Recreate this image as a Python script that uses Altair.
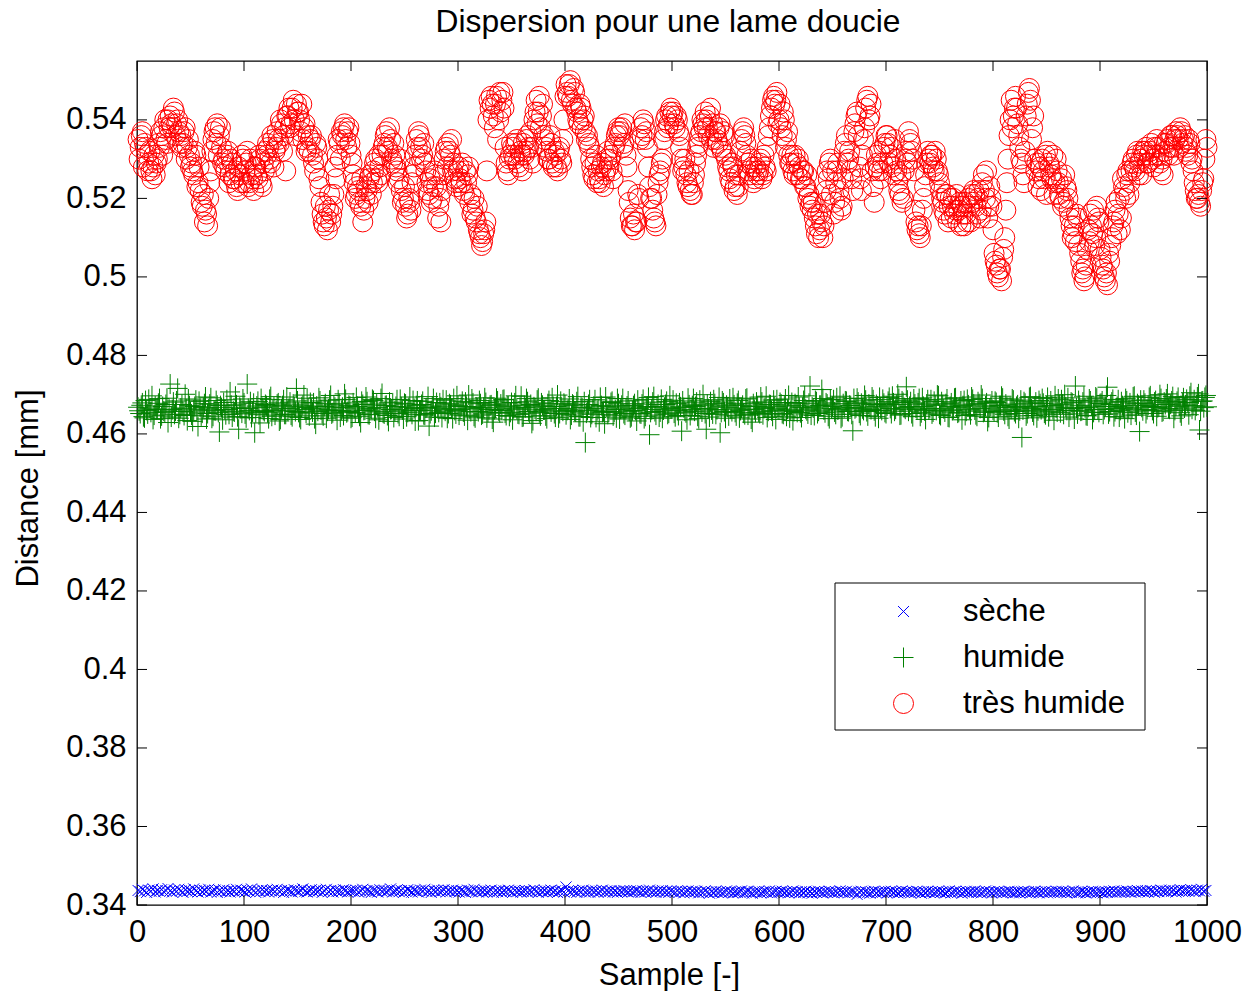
import altair as alt
import pandas as pd

FONT = "Liberation Sans"
FS = 31

series_names = ["sèche", "humide", "très humide"]
series_colors = ["#0000ff", "#008000", "#ff0000"]
x_ticks = [0, 100, 200, 300, 400, 500, 600, 700, 800, 900, 1000]
y_ticks = [0.34, 0.36, 0.38, 0.40, 0.42, 0.44, 0.46, 0.48, 0.50, 0.52, 0.54]
title_text = "Dispersion pour une lame doucie"

samples_odd = list(range(1, 1001, 2))
samples_even = list(range(2, 1001, 2))

# "très humide": odd samples
tres_humide_a = [
    0.535, 0.533, 0.537, 0.534, 0.531, 0.529, 0.527, 0.528, 0.526, 0.530,
    0.533, 0.536, 0.538, 0.535, 0.540, 0.541, 0.538, 0.542, 0.539, 0.537,
    0.536, 0.534, 0.538, 0.533, 0.531, 0.529, 0.526, 0.531, 0.524, 0.522,
    0.518, 0.514, 0.516, 0.520, 0.527, 0.535, 0.538, 0.539, 0.536, 0.533,
    0.530, 0.527, 0.532, 0.526, 0.529, 0.525, 0.523, 0.528, 0.524, 0.530,
    0.527, 0.532, 0.524, 0.526, 0.522, 0.528, 0.525, 0.530, 0.523, 0.527,
    0.531, 0.533, 0.529, 0.535, 0.532, 0.537, 0.534, 0.539, 0.536, 0.527,
    0.541, 0.538, 0.543, 0.540, 0.544, 0.542, 0.537, 0.535, 0.539, 0.533,
    0.532, 0.536, 0.529, 0.534, 0.530, 0.523, 0.516, 0.513, 0.515, 0.517,
    0.514, 0.518, 0.528, 0.531, 0.534, 0.537, 0.538, 0.535, 0.537, 0.534,
    0.529, 0.524, 0.521, 0.522, 0.518, 0.514, 0.520, 0.522, 0.525, 0.521,
    0.527, 0.530, 0.524, 0.528, 0.531, 0.534, 0.537, 0.532, 0.535, 0.529,
    0.531, 0.527, 0.525, 0.522, 0.520, 0.518, 0.516, 0.519, 0.524, 0.528,
    0.535, 0.537, 0.533, 0.531, 0.529, 0.524, 0.521, 0.519, 0.523, 0.526,
    0.515, 0.520, 0.522, 0.530, 0.533, 0.534, 0.531, 0.527, 0.525, 0.523,
    0.528, 0.524, 0.522, 0.527, 0.526, 0.519, 0.516, 0.520, 0.514, 0.512,
    0.510, 0.509, 0.512, 0.527, 0.545, 0.546, 0.541, 0.544, 0.535, 0.547,
    0.545, 0.543, 0.529, 0.526, 0.531, 0.533, 0.530, 0.535, 0.528, 0.531,
    0.534, 0.532, 0.536, 0.530, 0.533, 0.540, 0.545, 0.542, 0.538, 0.544,
    0.535, 0.532, 0.530, 0.534, 0.528, 0.531, 0.527, 0.533, 0.529, 0.540,
    0.549, 0.546, 0.550, 0.544, 0.547, 0.542, 0.539, 0.543, 0.540, 0.537,
    0.536, 0.533, 0.528, 0.525, 0.531, 0.527, 0.524, 0.529, 0.526, 0.530,
    0.528, 0.531, 0.525, 0.534, 0.537, 0.536, 0.538, 0.534, 0.531, 0.522,
    0.515, 0.513, 0.512, 0.514, 0.520, 0.538, 0.540, 0.535, 0.533, 0.523,
    0.520, 0.515, 0.513, 0.524, 0.527, 0.530, 0.537, 0.541, 0.539, 0.543,
    0.542, 0.538, 0.540, 0.536, 0.530, 0.528, 0.526, 0.523, 0.522, 0.521,
    0.526, 0.531, 0.534, 0.537, 0.539, 0.542, 0.538, 0.541, 0.535, 0.533,
    0.537, 0.534, 0.539, 0.532, 0.536, 0.530, 0.527, 0.524, 0.528, 0.523,
    0.521, 0.526, 0.535, 0.538, 0.534, 0.529, 0.526, 0.528, 0.525, 0.527,
    0.527, 0.530, 0.526, 0.528, 0.533, 0.538, 0.543, 0.546, 0.545, 0.539,
    0.544, 0.536, 0.540, 0.535, 0.531, 0.529, 0.527, 0.531, 0.526, 0.528,
    0.525, 0.527, 0.523, 0.520, 0.518, 0.517, 0.515, 0.511, 0.510, 0.516,
    0.510, 0.519, 0.527, 0.529, 0.521, 0.516, 0.524, 0.529, 0.520, 0.518,
    0.532, 0.536, 0.530, 0.527, 0.522, 0.539, 0.542, 0.528, 0.522, 0.535,
    0.543, 0.546, 0.541, 0.527, 0.519, 0.531, 0.527, 0.525, 0.529, 0.534,
    0.536, 0.529, 0.533, 0.526, 0.530, 0.524, 0.521, 0.519, 0.527, 0.532,
    0.537, 0.534, 0.530, 0.517, 0.512, 0.511, 0.513, 0.520, 0.526, 0.532,
    0.529, 0.531, 0.527, 0.530, 0.526, 0.522, 0.519, 0.516, 0.521, 0.518,
    0.515, 0.520, 0.517, 0.514, 0.519, 0.518, 0.513, 0.516, 0.520, 0.514,
    0.519, 0.521, 0.516, 0.522, 0.517, 0.526, 0.520, 0.515, 0.523, 0.518,
    0.506, 0.503, 0.500, 0.502, 0.505, 0.510, 0.524, 0.536, 0.545, 0.541,
    0.546, 0.539, 0.533, 0.529, 0.524, 0.541, 0.547, 0.545, 0.538, 0.530,
    0.529, 0.525, 0.522, 0.527, 0.531, 0.532, 0.528, 0.525, 0.521, 0.530,
    0.524, 0.520, 0.518, 0.526, 0.522, 0.517, 0.513, 0.511, 0.509, 0.515,
    0.506, 0.501, 0.499, 0.503, 0.512, 0.516, 0.511, 0.508, 0.518, 0.514,
    0.505, 0.502, 0.499, 0.498, 0.504, 0.510, 0.514, 0.519, 0.516, 0.512,
    0.525, 0.522, 0.526, 0.521, 0.527, 0.530, 0.527, 0.532, 0.529, 0.526,
    0.531, 0.533, 0.529, 0.532, 0.530, 0.533, 0.535, 0.531, 0.527, 0.526,
    0.532, 0.535, 0.533, 0.536, 0.531, 0.537, 0.535, 0.538, 0.534, 0.536,
    0.533, 0.535, 0.529, 0.527, 0.522, 0.520, 0.519, 0.522, 0.525, 0.535,
]

# "très humide": even samples
tres_humide_b = [
    0.530, 0.536, 0.528, 0.533, 0.527, 0.532, 0.525, 0.531, 0.529, 0.534,
    0.537, 0.531, 0.540, 0.534, 0.538, 0.539, 0.543, 0.536, 0.540, 0.534,
    0.533, 0.537, 0.530, 0.535, 0.528, 0.527, 0.532, 0.523, 0.528, 0.519,
    0.521, 0.517, 0.513, 0.524, 0.532, 0.537, 0.534, 0.531, 0.538, 0.529,
    0.528, 0.531, 0.524, 0.530, 0.525, 0.527, 0.522, 0.526, 0.531, 0.524,
    0.529, 0.523, 0.530, 0.525, 0.528, 0.526, 0.531, 0.524, 0.529, 0.532,
    0.534, 0.530, 0.536, 0.528, 0.533, 0.535, 0.540, 0.532, 0.538, 0.541,
    0.543, 0.539, 0.545, 0.536, 0.542, 0.540, 0.544, 0.538, 0.532, 0.536,
    0.535, 0.531, 0.527, 0.533, 0.525, 0.519, 0.514, 0.518, 0.512, 0.521,
    0.516, 0.521, 0.525, 0.535, 0.530, 0.536, 0.539, 0.533, 0.538, 0.531,
    0.526, 0.520, 0.523, 0.519, 0.525, 0.517, 0.523, 0.519, 0.526, 0.524,
    0.529, 0.525, 0.531, 0.526, 0.533, 0.536, 0.533, 0.538, 0.530, 0.534,
    0.528, 0.524, 0.530, 0.519, 0.523, 0.515, 0.520, 0.517, 0.526, 0.531,
    0.533, 0.536, 0.530, 0.534, 0.527, 0.522, 0.525, 0.520, 0.527, 0.523,
    0.518, 0.514, 0.526, 0.532, 0.528, 0.532, 0.535, 0.529, 0.524, 0.527,
    0.525, 0.529, 0.521, 0.524, 0.528, 0.521, 0.517, 0.515, 0.518, 0.511,
    0.508, 0.511, 0.514, 0.540, 0.543, 0.544, 0.538, 0.546, 0.540, 0.542,
    0.547, 0.533, 0.527, 0.530, 0.534, 0.531, 0.534, 0.529, 0.532, 0.527,
    0.531, 0.535, 0.533, 0.537, 0.529, 0.542, 0.539, 0.546, 0.541, 0.536,
    0.533, 0.530, 0.536, 0.529, 0.532, 0.528, 0.532, 0.530, 0.535, 0.546,
    0.547, 0.549, 0.545, 0.548, 0.543, 0.540, 0.544, 0.538, 0.541, 0.535,
    0.534, 0.530, 0.526, 0.529, 0.524, 0.525, 0.528, 0.523, 0.527, 0.532,
    0.530, 0.527, 0.533, 0.536, 0.538, 0.537, 0.533, 0.539, 0.528, 0.519,
    0.513, 0.516, 0.514, 0.521, 0.535, 0.536, 0.539, 0.537, 0.528, 0.520,
    0.517, 0.514, 0.521, 0.526, 0.529, 0.535, 0.540, 0.538, 0.542, 0.541,
    0.539, 0.541, 0.537, 0.533, 0.527, 0.530, 0.524, 0.527, 0.521, 0.524,
    0.529, 0.533, 0.536, 0.540, 0.538, 0.540, 0.536, 0.543, 0.539, 0.537,
    0.535, 0.538, 0.533, 0.537, 0.531, 0.528, 0.525, 0.529, 0.522, 0.526,
    0.523, 0.532, 0.537, 0.536, 0.531, 0.527, 0.530, 0.524, 0.528, 0.526,
    0.529, 0.525, 0.531, 0.527, 0.536, 0.541, 0.545, 0.544, 0.547, 0.540,
    0.538, 0.542, 0.533, 0.537, 0.529, 0.531, 0.526, 0.529, 0.530, 0.525,
    0.527, 0.523, 0.526, 0.521, 0.519, 0.519, 0.513, 0.516, 0.512, 0.514,
    0.513, 0.522, 0.525, 0.530, 0.527, 0.519, 0.527, 0.522, 0.517, 0.525,
    0.534, 0.529, 0.532, 0.525, 0.537, 0.541, 0.536, 0.525, 0.531, 0.538,
    0.545, 0.540, 0.544, 0.523, 0.528, 0.529, 0.532, 0.527, 0.533, 0.536,
    0.534, 0.531, 0.528, 0.535, 0.527, 0.522, 0.526, 0.520, 0.530, 0.529,
    0.535, 0.532, 0.527, 0.514, 0.513, 0.510, 0.517, 0.523, 0.529, 0.530,
    0.531, 0.528, 0.532, 0.527, 0.524, 0.520, 0.517, 0.521, 0.514, 0.520,
    0.518, 0.516, 0.521, 0.517, 0.513, 0.516, 0.519, 0.514, 0.518, 0.521,
    0.522, 0.518, 0.520, 0.515, 0.524, 0.522, 0.527, 0.518, 0.520, 0.512,
    0.504, 0.501, 0.502, 0.499, 0.507, 0.517, 0.530, 0.540, 0.538, 0.543,
    0.543, 0.536, 0.530, 0.526, 0.532, 0.544, 0.548, 0.535, 0.541, 0.527,
    0.523, 0.528, 0.530, 0.525, 0.521, 0.529, 0.526, 0.531, 0.524, 0.527,
    0.521, 0.525, 0.519, 0.523, 0.520, 0.515, 0.510, 0.513, 0.516, 0.508,
    0.504, 0.502, 0.500, 0.507, 0.509, 0.513, 0.517, 0.510, 0.515, 0.507,
    0.503, 0.500, 0.501, 0.506, 0.508, 0.513, 0.517, 0.511, 0.520, 0.515,
    0.523, 0.520, 0.527, 0.524, 0.529, 0.528, 0.531, 0.526, 0.530, 0.532,
    0.532, 0.529, 0.531, 0.534, 0.528, 0.531, 0.533, 0.529, 0.530, 0.534,
    0.534, 0.531, 0.536, 0.533, 0.535, 0.536, 0.533, 0.537, 0.535, 0.532,
    0.531, 0.534, 0.530, 0.524, 0.520, 0.521, 0.518, 0.524, 0.530, 0.533,
]

# "humide": odd samples
humide_a = [
    0.4668, 0.4652, 0.4679, 0.4641, 0.4660, 0.4688, 0.4655, 0.4637, 0.4671, 0.4663,
    0.4690, 0.4646, 0.4658, 0.4675, 0.4629, 0.4727, 0.4662, 0.4650, 0.4684, 0.4640,
    0.4666, 0.4657, 0.4701, 0.4634, 0.4672, 0.4648, 0.4661, 0.4686, 0.4619, 0.4669,
    0.4653, 0.4677, 0.4638, 0.4664, 0.4692, 0.4645, 0.4659, 0.4673, 0.4605, 0.4667,
    0.4680, 0.4649, 0.4662, 0.4707, 0.4643, 0.4656, 0.4674, 0.4612, 0.4665, 0.4689,
    0.4651, 0.4727, 0.4660, 0.4642, 0.4678, 0.4654, 0.4683, 0.4628, 0.4667, 0.4657,
    0.4672, 0.4639, 0.4695, 0.4661, 0.4648, 0.4676, 0.4633, 0.4664, 0.4687, 0.4650,
    0.4659, 0.4681, 0.4644, 0.4669, 0.4716, 0.4655, 0.4637, 0.4673, 0.4662, 0.4691,
    0.4646, 0.4665, 0.4679, 0.4625, 0.4658, 0.4684, 0.4652, 0.4670, 0.4640, 0.4663,
    0.4698, 0.4654, 0.4668, 0.4635, 0.4677, 0.4660, 0.4647, 0.4688, 0.4657, 0.4671,
    0.4643, 0.4666, 0.4693, 0.4653, 0.4629, 0.4675, 0.4661, 0.4682, 0.4649, 0.4664,
    0.4685, 0.4640, 0.4667, 0.4656, 0.4703, 0.4651, 0.4673, 0.4632, 0.4662, 0.4679,
    0.4658, 0.4687, 0.4645, 0.4669, 0.4638, 0.4676, 0.4655, 0.4694, 0.4650, 0.4665,
    0.4672, 0.4634, 0.4661, 0.4683, 0.4648, 0.4667, 0.4620, 0.4659, 0.4690, 0.4653,
    0.4666, 0.4679, 0.4642, 0.4663, 0.4686, 0.4652, 0.4674, 0.4639, 0.4660, 0.4697,
    0.4648, 0.4670, 0.4656, 0.4681, 0.4635, 0.4664, 0.4689, 0.4645, 0.4668, 0.4657,
    0.4677, 0.4651, 0.4692, 0.4641, 0.4662, 0.4674, 0.4630, 0.4666, 0.4684, 0.4654,
    0.4660, 0.4688, 0.4647, 0.4671, 0.4655, 0.4636, 0.4679, 0.4663, 0.4650, 0.4696,
    0.4644, 0.4667, 0.4682, 0.4653, 0.4627, 0.4669, 0.4658, 0.4691, 0.4646, 0.4673,
    0.4661, 0.4639, 0.4685, 0.4656, 0.4670, 0.4643, 0.4699, 0.4652, 0.4665, 0.4678,
    0.4649, 0.4663, 0.4637, 0.4676, 0.4658, 0.4682, 0.4644, 0.4668, 0.4631, 0.4578,
    0.4660, 0.4687, 0.4650, 0.4671, 0.4642, 0.4664, 0.4693, 0.4655, 0.4626, 0.4669,
    0.4657, 0.4680, 0.4646, 0.4662, 0.4690, 0.4638, 0.4673, 0.4652, 0.4666, 0.4684,
    0.4641, 0.4659, 0.4677, 0.4633, 0.4665, 0.4651, 0.4688, 0.4645, 0.4670, 0.4598,
    0.4662, 0.4695, 0.4648, 0.4675, 0.4656, 0.4640, 0.4668, 0.4683, 0.4653, 0.4664,
    0.4686, 0.4644, 0.4660, 0.4679, 0.4607, 0.4667, 0.4654, 0.4691, 0.4647, 0.4672,
    0.4658, 0.4681, 0.4639, 0.4665, 0.4700, 0.4652, 0.4676, 0.4643, 0.4661, 0.4687,
    0.4650, 0.4669, 0.4603, 0.4684, 0.4657, 0.4673, 0.4646, 0.4663, 0.4692, 0.4655,
    0.4678, 0.4641, 0.4666, 0.4653, 0.4689, 0.4648, 0.4670, 0.4630, 0.4662, 0.4681,
    0.4656, 0.4694, 0.4649, 0.4667, 0.4642, 0.4675, 0.4659, 0.4686, 0.4637, 0.4664,
    0.4680, 0.4652, 0.4671, 0.4645, 0.4698, 0.4660, 0.4634, 0.4677, 0.4655, 0.4668,
    0.4642, 0.4685, 0.4663, 0.4651, 0.4722, 0.4669, 0.4647, 0.4682, 0.4658, 0.4673,
    0.4690, 0.4654, 0.4676, 0.4639, 0.4665, 0.4687, 0.4650, 0.4661, 0.4696, 0.4644,
    0.4667, 0.4683, 0.4657, 0.4672, 0.4608, 0.4664, 0.4691, 0.4653, 0.4678, 0.4660,
    0.4686, 0.4646, 0.4669, 0.4694, 0.4659, 0.4675, 0.4640, 0.4666, 0.4688, 0.4655,
    0.4671, 0.4693, 0.4652, 0.4679, 0.4663, 0.4701, 0.4648, 0.4684, 0.4667, 0.4720,
    0.4658, 0.4682, 0.4644, 0.4676, 0.4662, 0.4690, 0.4654, 0.4670, 0.4637, 0.4687,
    0.4665, 0.4651, 0.4683, 0.4660, 0.4697, 0.4647, 0.4674, 0.4656, 0.4689, 0.4642,
    0.4679, 0.4663, 0.4692, 0.4653, 0.4669, 0.4636, 0.4685, 0.4658, 0.4674, 0.4649,
    0.4688, 0.4661, 0.4645, 0.4677, 0.4699, 0.4655, 0.4671, 0.4632, 0.4666, 0.4684,
    0.4657, 0.4680, 0.4643, 0.4672, 0.4691, 0.4650, 0.4668, 0.4638, 0.4663, 0.4686,
    0.4652, 0.4674, 0.4659, 0.4591, 0.4682, 0.4646, 0.4667, 0.4695, 0.4656, 0.4670,
    0.4641, 0.4685, 0.4662, 0.4678, 0.4649, 0.4693, 0.4658, 0.4672, 0.4635, 0.4666,
    0.4689, 0.4654, 0.4676, 0.4700, 0.4660, 0.4643, 0.4681, 0.4665, 0.4722, 0.4651,
    0.4673, 0.4659, 0.4696, 0.4647, 0.4668, 0.4684, 0.4637, 0.4662, 0.4691, 0.4655,
    0.4678, 0.4650, 0.4670, 0.4719, 0.4657, 0.4681, 0.4644, 0.4665, 0.4687, 0.4660,
    0.4672, 0.4639, 0.4684, 0.4663, 0.4648, 0.4694, 0.4656, 0.4677, 0.4606, 0.4668,
    0.4686, 0.4652, 0.4673, 0.4697, 0.4660, 0.4681, 0.4645, 0.4669, 0.4690, 0.4658,
    0.4675, 0.4702, 0.4663, 0.4684, 0.4640, 0.4671, 0.4693, 0.4654, 0.4679, 0.4666,
    0.4688, 0.4649, 0.4705, 0.4672, 0.4660, 0.4694, 0.4610, 0.4683, 0.4667, 0.4698,
]

# "humide": even samples
humide_b = [
    0.4659, 0.4673, 0.4644, 0.4685, 0.4651, 0.4666, 0.4697, 0.4648, 0.4662, 0.4678,
    0.4639, 0.4670, 0.4655, 0.4691, 0.4663, 0.4643, 0.4681, 0.4658, 0.4716, 0.4650,
    0.4675, 0.4647, 0.4664, 0.4689, 0.4656, 0.4632, 0.4670, 0.4661, 0.4683, 0.4646,
    0.4667, 0.4694, 0.4652, 0.4676, 0.4640, 0.4661, 0.4685, 0.4655, 0.4672, 0.4636,
    0.4662, 0.4687, 0.4650, 0.4673, 0.4658, 0.4696, 0.4644, 0.4668, 0.4653, 0.4679,
    0.4641, 0.4665, 0.4682, 0.4656, 0.4603, 0.4671, 0.4649, 0.4690, 0.4660, 0.4675,
    0.4654, 0.4688, 0.4645, 0.4669, 0.4659, 0.4679, 0.4637, 0.4672, 0.4650, 0.4694,
    0.4665, 0.4648, 0.4676, 0.4657, 0.4684, 0.4642, 0.4669, 0.4699, 0.4653, 0.4667,
    0.4680, 0.4656, 0.4639, 0.4671, 0.4692, 0.4661, 0.4646, 0.4677, 0.4658, 0.4686,
    0.4651, 0.4674, 0.4660, 0.4687, 0.4643, 0.4668, 0.4702, 0.4654, 0.4673, 0.4640,
    0.4679, 0.4655, 0.4670, 0.4645, 0.4683, 0.4660, 0.4694, 0.4650, 0.4666, 0.4688,
    0.4658, 0.4676, 0.4636, 0.4690, 0.4653, 0.4672, 0.4647, 0.4681, 0.4663, 0.4642,
    0.4670, 0.4652, 0.4688, 0.4661, 0.4678, 0.4644, 0.4667, 0.4659, 0.4685, 0.4633,
    0.4684, 0.4660, 0.4675, 0.4649, 0.4666, 0.4695, 0.4652, 0.4671, 0.4643, 0.4680,
    0.4655, 0.4669, 0.4687, 0.4658, 0.4640, 0.4677, 0.4664, 0.4690, 0.4651, 0.4673,
    0.4662, 0.4683, 0.4646, 0.4670, 0.4699, 0.4657, 0.4679, 0.4641, 0.4666, 0.4685,
    0.4648, 0.4668, 0.4680, 0.4655, 0.4673, 0.4638, 0.4662, 0.4691, 0.4659, 0.4676,
    0.4687, 0.4653, 0.4671, 0.4645, 0.4680, 0.4664, 0.4697, 0.4651, 0.4668, 0.4643,
    0.4672, 0.4690, 0.4657, 0.4675, 0.4634, 0.4663, 0.4686, 0.4654, 0.4679, 0.4661,
    0.4646, 0.4677, 0.4665, 0.4692, 0.4652, 0.4670, 0.4641, 0.4683, 0.4658, 0.4674,
    0.4660, 0.4689, 0.4648, 0.4673, 0.4656, 0.4695, 0.4644, 0.4667, 0.4682, 0.4653,
    0.4675, 0.4642, 0.4664, 0.4687, 0.4659, 0.4631, 0.4672, 0.4657, 0.4694, 0.4650,
    0.4669, 0.4683, 0.4655, 0.4641, 0.4677, 0.4663, 0.4690, 0.4648, 0.4671, 0.4658,
    0.4644, 0.4672, 0.4660, 0.4686, 0.4652, 0.4676, 0.4639, 0.4667, 0.4693, 0.4655,
    0.4681, 0.4657, 0.4670, 0.4643, 0.4688, 0.4661, 0.4675, 0.4650, 0.4697, 0.4664,
    0.4653, 0.4678, 0.4647, 0.4669, 0.4684, 0.4658, 0.4636, 0.4674, 0.4662, 0.4690,
    0.4670, 0.4645, 0.4686, 0.4656, 0.4673, 0.4612, 0.4664, 0.4682, 0.4651, 0.4677,
    0.4662, 0.4693, 0.4655, 0.4679, 0.4640, 0.4668, 0.4689, 0.4657, 0.4674, 0.4646,
    0.4685, 0.4660, 0.4673, 0.4649, 0.4691, 0.4663, 0.4638, 0.4677, 0.4655, 0.4670,
    0.4652, 0.4681, 0.4665, 0.4696, 0.4658, 0.4674, 0.4645, 0.4669, 0.4687, 0.4661,
    0.4676, 0.4650, 0.4689, 0.4663, 0.4641, 0.4680, 0.4657, 0.4672, 0.4694, 0.4654,
    0.4668, 0.4697, 0.4659, 0.4678, 0.4648, 0.4666, 0.4685, 0.4652, 0.4673, 0.4713,
    0.4661, 0.4679, 0.4645, 0.4688, 0.4670, 0.4656, 0.4692, 0.4663, 0.4640, 0.4677,
    0.4684, 0.4658, 0.4673, 0.4650, 0.4690, 0.4667, 0.4681, 0.4647, 0.4664, 0.4698,
    0.4657, 0.4676, 0.4662, 0.4687, 0.4644, 0.4671, 0.4693, 0.4660, 0.4678, 0.4652,
    0.4683, 0.4665, 0.4696, 0.4658, 0.4675, 0.4690, 0.4649, 0.4680, 0.4663, 0.4686,
    0.4670, 0.4652, 0.4689, 0.4666, 0.4679, 0.4645, 0.4692, 0.4659, 0.4676, 0.4661,
    0.4687, 0.4656, 0.4673, 0.4699, 0.4650, 0.4682, 0.4664, 0.4677, 0.4643, 0.4670,
    0.4660, 0.4691, 0.4668, 0.4655, 0.4684, 0.4672, 0.4647, 0.4688, 0.4663, 0.4694,
    0.4676, 0.4649, 0.4682, 0.4665, 0.4690, 0.4658, 0.4679, 0.4642, 0.4671, 0.4661,
    0.4683, 0.4654, 0.4672, 0.4696, 0.4659, 0.4676, 0.4645, 0.4668, 0.4689, 0.4657,
    0.4670, 0.4640, 0.4686, 0.4661, 0.4678, 0.4652, 0.4693, 0.4665, 0.4647, 0.4681,
    0.4659, 0.4677, 0.4690, 0.4653, 0.4671, 0.4644, 0.4684, 0.4662, 0.4697, 0.4656,
    0.4674, 0.4687, 0.4650, 0.4668, 0.4692, 0.4660, 0.4679, 0.4638, 0.4666, 0.4685,
    0.4658, 0.4681, 0.4667, 0.4646, 0.4689, 0.4671, 0.4655, 0.4694, 0.4663, 0.4677,
    0.4684, 0.4662, 0.4698, 0.4651, 0.4675, 0.4688, 0.4657, 0.4670, 0.4643, 0.4682,
    0.4667, 0.4690, 0.4654, 0.4679, 0.4664, 0.4696, 0.4648, 0.4673, 0.4686, 0.4659,
    0.4678, 0.4662, 0.4693, 0.4670, 0.4652, 0.4685, 0.4667, 0.4700, 0.4656, 0.4681,
    0.4689, 0.4665, 0.4676, 0.4695, 0.4660, 0.4683, 0.4671, 0.4646, 0.4692, 0.4674,
    0.4680, 0.4696, 0.4663, 0.4687, 0.4671, 0.4702, 0.4658, 0.4684, 0.4693, 0.4669,
]

# "sèche": odd samples
seche = [
    0.3437, 0.3434, 0.3440, 0.3436, 0.3432, 0.3438, 0.3435, 0.3441, 0.3433, 0.3437,
    0.3435, 0.3439, 0.3434, 0.3437, 0.3442, 0.3436, 0.3433, 0.3438, 0.3435, 0.3440,
    0.3436, 0.3432, 0.3439, 0.3435, 0.3437, 0.3434, 0.3441, 0.3436, 0.3433, 0.3438,
    0.3434, 0.3437, 0.3435, 0.3440, 0.3433, 0.3436, 0.3438, 0.3432, 0.3437, 0.3435,
    0.3439, 0.3434, 0.3436, 0.3433, 0.3437, 0.3435, 0.3440, 0.3434, 0.3438, 0.3436,
    0.3433, 0.3438, 0.3435, 0.3441, 0.3436, 0.3432, 0.3437, 0.3434, 0.3439, 0.3435,
    0.3437, 0.3433, 0.3436, 0.3438, 0.3434, 0.3440, 0.3435, 0.3437, 0.3432, 0.3436,
    0.3438, 0.3435, 0.3433, 0.3439, 0.3436, 0.3434, 0.3437, 0.3441, 0.3435, 0.3433,
    0.3436, 0.3439, 0.3434, 0.3437, 0.3435, 0.3438, 0.3432, 0.3436, 0.3440, 0.3434,
    0.3437, 0.3433, 0.3438, 0.3435, 0.3436, 0.3434, 0.3439, 0.3437, 0.3433, 0.3436,
    0.3436, 0.3435, 0.3438, 0.3433, 0.3436, 0.3440, 0.3434, 0.3437, 0.3435, 0.3432,
    0.3438, 0.3436, 0.3433, 0.3439, 0.3435, 0.3437, 0.3434, 0.3436, 0.3441, 0.3433,
    0.3436, 0.3438, 0.3434, 0.3437, 0.3432, 0.3435, 0.3439, 0.3436, 0.3433, 0.3437,
    0.3435, 0.3433, 0.3438, 0.3436, 0.3440, 0.3434, 0.3436, 0.3432, 0.3437, 0.3435,
    0.3438, 0.3434, 0.3436, 0.3439, 0.3433, 0.3437, 0.3435, 0.3438, 0.3434, 0.3436,
    0.3433, 0.3437, 0.3435, 0.3432, 0.3438, 0.3436, 0.3434, 0.3440, 0.3435, 0.3433,
    0.3436, 0.3434, 0.3437, 0.3433, 0.3435, 0.3438, 0.3432, 0.3436, 0.3434, 0.3437,
    0.3433, 0.3436, 0.3434, 0.3438, 0.3435, 0.3432, 0.3437, 0.3434, 0.3436, 0.3433,
    0.3435, 0.3437, 0.3433, 0.3436, 0.3434, 0.3439, 0.3435, 0.3432, 0.3436, 0.3434,
    0.3437, 0.3433, 0.3435, 0.3438, 0.3434, 0.3436, 0.3432, 0.3435, 0.3437, 0.3433,
    0.3446, 0.3436, 0.3433, 0.3437, 0.3435, 0.3432, 0.3436, 0.3434, 0.3438, 0.3433,
    0.3435, 0.3433, 0.3437, 0.3434, 0.3436, 0.3432, 0.3435, 0.3438, 0.3433, 0.3436,
    0.3434, 0.3437, 0.3433, 0.3435, 0.3432, 0.3436, 0.3434, 0.3437, 0.3435, 0.3433,
    0.3436, 0.3433, 0.3435, 0.3437, 0.3434, 0.3432, 0.3436, 0.3433, 0.3435, 0.3438,
    0.3433, 0.3435, 0.3432, 0.3436, 0.3434, 0.3437, 0.3433, 0.3435, 0.3432, 0.3436,
    0.3434, 0.3432, 0.3436, 0.3433, 0.3435, 0.3431, 0.3434, 0.3436, 0.3432, 0.3435,
    0.3433, 0.3435, 0.3431, 0.3434, 0.3432, 0.3436, 0.3433, 0.3430, 0.3434, 0.3432,
    0.3435, 0.3432, 0.3434, 0.3431, 0.3433, 0.3436, 0.3432, 0.3434, 0.3431, 0.3433,
    0.3432, 0.3434, 0.3436, 0.3431, 0.3433, 0.3435, 0.3432, 0.3430, 0.3434, 0.3433,
    0.3435, 0.3431, 0.3433, 0.3434, 0.3432, 0.3436, 0.3431, 0.3433, 0.3435, 0.3432,
    0.3433, 0.3435, 0.3432, 0.3434, 0.3431, 0.3433, 0.3436, 0.3432, 0.3434, 0.3431,
    0.3434, 0.3432, 0.3435, 0.3431, 0.3433, 0.3430, 0.3434, 0.3432, 0.3435, 0.3433,
    0.3431, 0.3434, 0.3432, 0.3435, 0.3433, 0.3431, 0.3434, 0.3432, 0.3436, 0.3433,
    0.3432, 0.3435, 0.3431, 0.3433, 0.3434, 0.3432, 0.3427, 0.3433, 0.3435, 0.3431,
    0.3434, 0.3432, 0.3430, 0.3433, 0.3435, 0.3431, 0.3434, 0.3432, 0.3433, 0.3435,
    0.3431, 0.3433, 0.3435, 0.3432, 0.3434, 0.3431, 0.3433, 0.3436, 0.3432, 0.3434,
    0.3433, 0.3431, 0.3434, 0.3432, 0.3435, 0.3433, 0.3430, 0.3434, 0.3432, 0.3435,
    0.3432, 0.3434, 0.3431, 0.3433, 0.3435, 0.3432, 0.3434, 0.3431, 0.3433, 0.3436,
    0.3431, 0.3433, 0.3435, 0.3432, 0.3434, 0.3430, 0.3433, 0.3435, 0.3432, 0.3434,
    0.3433, 0.3435, 0.3432, 0.3434, 0.3431, 0.3433, 0.3436, 0.3432, 0.3434, 0.3431,
    0.3434, 0.3432, 0.3435, 0.3433, 0.3431, 0.3434, 0.3432, 0.3435, 0.3433, 0.3431,
    0.3432, 0.3434, 0.3431, 0.3433, 0.3435, 0.3432, 0.3434, 0.3431, 0.3433, 0.3435,
    0.3433, 0.3431, 0.3434, 0.3432, 0.3435, 0.3431, 0.3433, 0.3434, 0.3432, 0.3435,
    0.3434, 0.3432, 0.3435, 0.3433, 0.3431, 0.3434, 0.3432, 0.3436, 0.3433, 0.3431,
    0.3432, 0.3435, 0.3433, 0.3431, 0.3434, 0.3432, 0.3435, 0.3433, 0.3431, 0.3434,
    0.3433, 0.3431, 0.3434, 0.3432, 0.3435, 0.3433, 0.3436, 0.3432, 0.3434, 0.3433,
    0.3435, 0.3433, 0.3436, 0.3434, 0.3432, 0.3435, 0.3433, 0.3437, 0.3434, 0.3436,
    0.3434, 0.3436, 0.3433, 0.3437, 0.3435, 0.3432, 0.3436, 0.3434, 0.3438, 0.3435,
    0.3436, 0.3434, 0.3438, 0.3435, 0.3437, 0.3433, 0.3436, 0.3439, 0.3435, 0.3437,
    0.3437, 0.3435, 0.3439, 0.3436, 0.3434, 0.3438, 0.3436, 0.3440, 0.3435, 0.3437,
]

W, H = 1070, 844

rows = []
for name, parts in zip(series_names, [
        [(samples_odd, seche)],
        [(samples_odd, humide_a), (samples_even, humide_b)],
        [(samples_odd, tres_humide_a), (samples_even, tres_humide_b)]]):
    pts = []
    for smp, vals in parts:
        pts.extend(zip(smp, vals))
    pts.sort()
    for s, v in pts:
        rows.append({"sample": s, "distance": v, "serie": name})
df = pd.DataFrame(rows)

xscale = alt.Scale(domain=[0, 1000], nice=False, zero=False)
yscale = alt.Scale(domain=[0.34, 0.555], nice=False, zero=False)

x_axis = alt.Axis(values=x_ticks, format="d", ticks=False, tickSize=0, domain=False,
                  grid=False, labelFontSize=FS, labelFont=FONT, labelColor="black",
                  labelPadding=12, labelFlush=False,
                  title="Sample [-]", titleFontSize=FS, titleFont=FONT,
                  titleFontWeight="normal", titleColor="black",
                  titleBaseline="alphabetic", titleY=79, titleX=H * 0 + 532)
y_axis = alt.Axis(values=y_ticks, format="~g", ticks=False, tickSize=0, domain=False,
                  grid=False, labelFontSize=FS, labelFont=FONT, labelColor="black",
                  labelPadding=11, labelFlush=False,
                  title="Distance [mm]", titleFontSize=FS, titleFont=FONT,
                  titleFontWeight="normal", titleColor="black",
                  titleBaseline="alphabetic", titleAngle=-90,
                  titleX=-100, titleY=H / 2 + 5)

shape_paths = [
    "M-0.55,-0.55L0.55,0.55M-0.55,0.55L0.55,-0.55",
    "M-1,0L1,0M0,-1L0,1",
    "circle",
]

legend = alt.Legend(
    title=None, orient="none", legendX=751, legendY=535,
    labelFontSize=FS, labelFont=FONT, labelColor="black", labelLimit=400,
    symbolSize=400, symbolStrokeWidth=1, labelOffset=44,
    rowPadding=14, padding=0,
)

points = alt.Chart(df).mark_point(filled=False, opacity=1, strokeWidth=1, size=400).encode(
    x=alt.X("sample:Q", scale=xscale, axis=x_axis),
    y=alt.Y("distance:Q", scale=yscale, axis=y_axis),
    color=alt.Color("serie:N", scale=alt.Scale(domain=series_names, range=series_colors),
                    legend=legend),
    shape=alt.Shape("serie:N", scale=alt.Scale(domain=series_names, range=shape_paths),
                    legend=legend),
)

legend_box = alt.Chart(pd.DataFrame({"k": [0]})).mark_rect(
    fill="white", stroke="black", strokeWidth=1
).encode(x=alt.value(698), x2=alt.value(1008), y=alt.value(522), y2=alt.value(669))

title_mark = alt.Chart(pd.DataFrame({"k": [0]})).mark_text(
    text=title_text, font=FONT, fontSize=31.8, color="black",
    align="center", baseline="alphabetic"
).encode(x=alt.value(531), y=alt.value(-29))

xt = pd.DataFrame({"sample": x_ticks})
yt = pd.DataFrame({"distance": y_ticks})
tick_len = 10
xt_bottom = alt.Chart(xt).mark_rule(color="black", strokeWidth=1).encode(
    x=alt.X("sample:Q", scale=xscale, axis=x_axis), y=alt.value(H), y2=alt.value(H - tick_len))
xt_top = alt.Chart(xt).mark_rule(color="black", strokeWidth=1).encode(
    x=alt.X("sample:Q", scale=xscale, axis=x_axis), y=alt.value(0), y2=alt.value(tick_len))
yt_left = alt.Chart(yt).mark_rule(color="black", strokeWidth=1).encode(
    y=alt.Y("distance:Q", scale=yscale, axis=y_axis), x=alt.value(0), x2=alt.value(tick_len))
yt_right = alt.Chart(yt).mark_rule(color="black", strokeWidth=1).encode(
    y=alt.Y("distance:Q", scale=yscale, axis=y_axis), x=alt.value(W), x2=alt.value(W - tick_len))

chart = alt.layer(points, legend_box, xt_bottom, xt_top, yt_left, yt_right, title_mark).properties(
    width=W, height=H,
    padding={"left": 137, "top": 61, "right": 48, "bottom": 86},
    autosize=alt.AutoSizeParams(type="none"),
    background="white",
).configure_view(stroke="black", strokeWidth=1.3)

chart.save("out.html", embed_options={"renderer": "svg", "actions": False})
